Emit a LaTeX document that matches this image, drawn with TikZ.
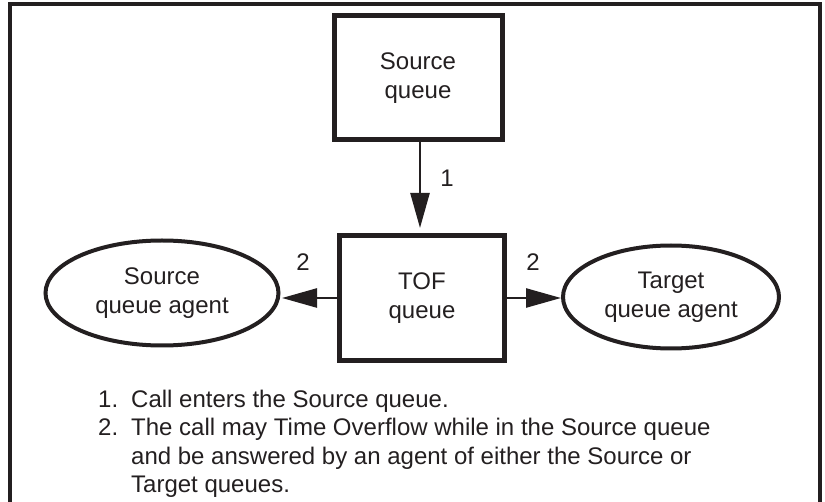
\documentclass[tikz,border=0pt]{standalone}
\usepackage{fontspec}
\setmainfont{Liberation Sans}
\usetikzlibrary{arrows.meta,shapes.geometric}
\definecolor{ink}{HTML}{231F20}
\begin{document}
\begin{tikzpicture}[x=1pt,y=-1pt,
  txt/.style={font=\fontsize{24}{29}\selectfont, text=ink},
  box/.style={txt, draw=ink, line width=5pt, rectangle, inner sep=0pt, align=center},
  agent/.style={txt, draw=ink, line width=4pt, ellipse, inner sep=0pt, align=center},
  flow/.style={draw=ink, line width=2.5pt, -{Triangle[length=35pt,width=19pt]}},
  lbl/.style={txt, inner sep=0pt},
  note/.style={txt, anchor=base west, inner sep=0pt}]
\useasboundingbox (0,0) rectangle (825,502);
\draw[ink, line width=4pt] (10,502) -- (10,4.5) -- (820,4.5) -- (820,502);

\node[box, minimum width=168pt, minimum height=124pt] (src) at (418,78) {Source\\queue};
\node[box, minimum width=165pt, minimum height=125pt] (tof) at (422,298) {TOF\\queue};
\node[agent, minimum width=233pt, minimum height=105pt] (sqa) at (162,293) {Source\\queue agent};
\node[agent, minimum width=216pt, minimum height=103pt] (tqa) at (671,297) {Target\\queue agent};

\coordinate (ax) at (420,0);
\draw[flow, shorten >=5pt] (src.south -| ax) -- (tof.north -| ax);
\draw[flow, shorten >=1.5pt] (tof.west) -- (tof.west -| sqa.east);
\draw[flow] (tof.east) -- (tof.east -| tqa.west);

\node[lbl] (l1) at (447,178) {1};
\node[lbl] (l2a) at (303,262) {2};
\node[lbl] (l2b) at (533,262) {2};

\node[note] (n1) at (98,407.5) {1.};
\node[note] (t1) at (131,407.5) {Call enters the Source queue.};
\node[note] (n2) at (98,436) {2.};
\node[note] (t2) at (131,436) {The call may Time Overflow while in the Source queue};
\node[note] (t3) at (131,464.5) {and be answered by an agent of either the Source or};
\node[note] (t4) at (131,493) {Target queues.};
\end{tikzpicture}
\end{document}
